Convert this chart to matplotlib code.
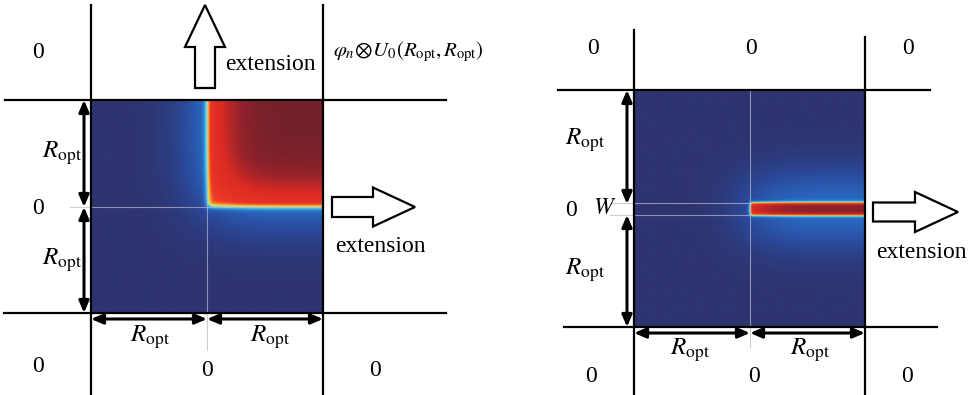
import math
import numpy as np
import matplotlib
matplotlib.use("Agg")
import matplotlib.pyplot as plt
from matplotlib.colors import LinearSegmentedColormap
from matplotlib.patches import Polygon

plt.rcParams['font.family'] = ['Liberation Serif', 'DejaVu Serif']
plt.rcParams['mathtext.fontset'] = 'stix'

# field parameters (pixel units)
corner_sharp, corner_wide, corner_mix = 3.0, 30.0, 0.55
strip_halfwidth, strip_sharp, strip_wide = 6.5, 1.6, 28.0
strip_core, strip_halo = 0.74, 0.22

# panel boxes: x0, x1, y0, y1, centre x, centre y
left_box = (91, 323, 100, 313, 207, 207)
right_box = (634, 865, 90, 327, 750, 209)

zero_labels = [(38, 52), (38, 208), (38, 367), (207, 370), (375, 370),
               (593, 48), (751, 48), (908, 48), (591, 377), (754, 377), (907, 377), (571, 210)]
ropt_labels = [(62, 153), (62, 260), (150, 337), (270, 337),
               (585, 140), (585, 270), (690, 350), (810, 350)]
ext_labels = [(270, 65), (380, 247), (921, 252)]

cmap = LinearSegmentedColormap.from_list("field", list(zip(
    [0.0, 0.10, 0.22, 0.35, 0.45, 0.52, 0.60, 0.72, 0.86, 0.94, 1.0],
    ['#2e3470', '#2a4a9c', '#2a6cc4', '#3aa8e0', '#6fe0ea', '#d8e85a',
     '#f8b030', '#ee3a26', '#dc2a24', '#96232a', '#74202a'])))

erf = np.vectorize(math.erf)
def Phi(z):
    return 0.5 * (1 + erf(z / math.sqrt(2)))

def grid(box, n=300):
    x0, x1, y0, y1, cx, cy = box
    xs = np.linspace(x0, x1, n)
    ys = np.linspace(y0, y1, n)
    return np.meshgrid(xs - cx, ys - cy)

# corner field: quadrant up-right of the centre
u, v = grid(left_box)
v = -v
corner = corner_mix * Phi(u / corner_sharp) * Phi(v / corner_sharp) \
    + (1 - corner_mix) * Phi(u / corner_wide) * Phi(v / corner_wide)

# strip field: thin band running right from the centre
u, v = grid(right_box)
w = strip_halfwidth
narrow = Phi(u / strip_sharp) * (Phi((v + w) / strip_sharp) - Phi((v - w) / strip_sharp))
wide = Phi(u / strip_wide) * (Phi((v + w) / strip_wide) - Phi((v - w) / strip_wide))
strip = strip_core * narrow + strip_halo * wide / wide.max()

fig = plt.figure(figsize=(9.69, 3.95), dpi=100)
ax = fig.add_axes([0, 0, 1, 1])
ax.set_xlim(0, 969)
ax.set_ylim(395, 0)
ax.axis('off')

for box, field in [(left_box, corner), (right_box, strip)]:
    x0, x1, y0, y1, cx, cy = box
    ax.imshow(field, cmap=cmap, vmin=0, vmax=1, extent=(x0, x1, y1, y0),
              origin='upper', aspect='auto', interpolation='bilinear', zorder=1)

lk = dict(color='k', lw=1.6, zorder=3)
# left grid lines
ax.plot([91, 91], [5, 395], **lk)
ax.plot([323, 323], [5, 395], **lk)
ax.plot([5, 446], [100, 100], **lk)
ax.plot([4, 446], [313, 313], **lk)
# right grid lines
ax.plot([634, 634], [30, 395], **lk)
ax.plot([865, 865], [37, 395], **lk)
ax.plot([558, 930], [90, 90], **lk)
ax.plot([564, 937], [327, 327], **lk)

gk = dict(color='#b8b8c8', lw=0.8, alpha=0.7, zorder=2)
ax.plot([207, 207], [100, 350], **gk)
ax.plot([70, 323], [207, 207], **gk)
ax.plot([750, 750], [90, 347], **gk)
ax.plot([610, 750], [203, 203], **gk)
ax.plot([610, 750], [215, 215], **gk)

def dim_arrow(p, q):
    ax.annotate('', xy=q, xytext=p, zorder=4,
                arrowprops=dict(arrowstyle='<|-|>,head_length=0.7,head_width=0.3',
                                lw=2.2, color='k', shrinkA=0, shrinkB=0))

dim_arrow((84, 100), (84, 207))
dim_arrow((84, 207), (84, 313))
dim_arrow((91, 319), (207, 319))
dim_arrow((207, 319), (323, 319))
dim_arrow((627, 90), (627, 204))
dim_arrow((627, 215), (627, 327))
dim_arrow((634, 333), (750, 333))
dim_arrow((750, 333), (865, 333))

def block_arrow(tail, tip, shaft_w, head_w, head_len):
    t = np.array(tail, float)
    h = np.array(tip, float)
    d = (h - t) / np.linalg.norm(h - t)
    n = np.array([-d[1], d[0]])
    b = h - d * head_len
    pts = [t + n * shaft_w / 2, b + n * shaft_w / 2, b + n * head_w / 2, h,
           b - n * head_w / 2, b - n * shaft_w / 2, t - n * shaft_w / 2]
    ax.add_patch(Polygon(pts, closed=True, facecolor='white', edgecolor='k',
                         lw=1.6, zorder=4, joinstyle='miter'))

block_arrow((205, 88), (205, 5), 20, 40, 42)
block_arrow((332, 207), (415, 207), 20, 39, 42)
block_arrow((873, 212), (958, 212), 19, 40, 43)

fs = 17
for x, y in zero_labels:
    ax.text(x, y, '0', fontsize=fs, ha='center', va='center')
for x, y in ropt_labels:
    ax.text(x, y, r'$R_{\rm opt}$', fontsize=fs + 1, ha='center', va='center')
for x, y in ext_labels:
    ax.text(x, y, 'extension', fontsize=fs, ha='center', va='center')
ax.text(605, 209, r'$W$', fontsize=fs, ha='center', va='center')
ax.text(408, 52, r'$\varphi_n\!\otimes\! U_0(R_{\rm opt},R_{\rm opt})$',
        fontsize=15, ha='center', va='center')

fig.savefig('out.png', dpi=100)
